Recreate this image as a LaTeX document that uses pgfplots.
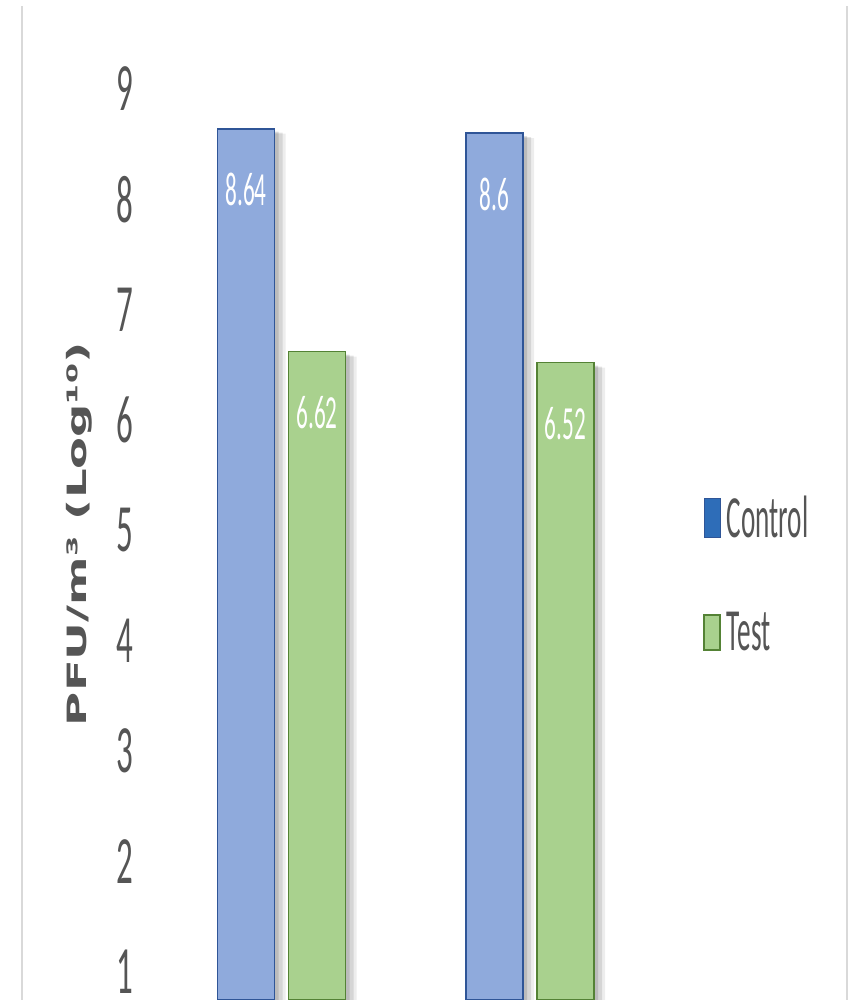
\documentclass[border=0pt]{standalone}
\usepackage{pgfplots}
\pgfplotsset{compat=1.18}
\usepackage{fontspec}
\usepackage{graphicx}
\setmainfont{Carlito}
\newfontfamily\labfont{DejaVu Sans}
\definecolor{ctrlfill}{HTML}{8FAADC}
\definecolor{ctrledge}{HTML}{2F5597}
\definecolor{ctrlleg}{HTML}{2E6DB8}
\definecolor{testfill}{HTML}{A9D18E}
\definecolor{testedge}{HTML}{548235}
\definecolor{txtgray}{HTML}{555555}
\definecolor{bordergray}{HTML}{D9D9D9}
\begin{document}
\begin{tikzpicture}[x=1pt,y=1pt]
\useasboundingbox (0,0) rectangle (425.5,500);
\begin{axis}[
  at={(0,0)}, anchor=south west,
  width=425.5pt, height=500pt, scale only axis,
  xmin=-1.1328, xmax=2.2918, ymin=0.741, ymax=9.807,
  axis line style={draw=none},
  ybar, bar width=28.5pt,
  xtick=\empty,
  ytick={1,2,3,4,5,6,7,8,9},
  major tick length=0pt,
  /pgf/number format/assume math mode=true,
  yticklabel style={anchor=center, xshift=62.5pt, inner sep=0pt, text=txtgray, font=\fontsize{16.5}{16.5}\selectfont},
  yticklabel={\scalebox{1}[2.05]{\pgfmathprintnumber{\tick}}},
  ylabel={\labfont\bfseries\scalebox{1.75}[1]{PFU/m³ (Log¹⁰)}},
  ylabel style={at={(axis description cs:0.0928,0.466)}, anchor=center, text=txtgray, font=\fontsize{13.3}{13.3}\selectfont},
  nodes near coords={\scalebox{1}[2.05]{\pgfmathprintnumber{\pgfplotspointmeta}}},
  nodes near coords style={anchor=center, yshift=-30.5pt, text=white, font=\fontsize{11.6}{11.6}\selectfont},
  legend style={draw=none, fill=none, at={(axis description cs:0.826,0.4255)}, anchor=west,
    inner sep=0pt, row sep=36pt, text=txtgray, font=\fontsize{13.6}{13.6}\selectfont,
    nodes={inner sep=0pt},
    /tikz/every odd column/.append style={column sep=3pt}},
  legend cell align=left,
]
% shadows (gray offset copies of the bars)
\addplot[forget plot, fill=black, draw=none, opacity=0.12, bar shift=-15.75pt, yshift=-1.5pt, nodes near coords={}] coordinates {(0,8.64) (1,8.6)};
\addplot[forget plot, fill=black, draw=none, opacity=0.10, bar shift=-13.75pt, yshift=-2pt, nodes near coords={}] coordinates {(0,8.64) (1,8.6)};
\addplot[forget plot, fill=black, draw=none, opacity=0.07, bar shift=-12.25pt, yshift=-2.5pt, nodes near coords={}] coordinates {(0,8.64) (1,8.6)};
\addplot[forget plot, fill=black, draw=none, opacity=0.12, bar shift=19.75pt, yshift=-1.5pt, nodes near coords={}] coordinates {(0,6.62) (1,6.52)};
\addplot[forget plot, fill=black, draw=none, opacity=0.10, bar shift=21.75pt, yshift=-2pt, nodes near coords={}] coordinates {(0,6.62) (1,6.52)};
\addplot[forget plot, fill=black, draw=none, opacity=0.07, bar shift=23.25pt, yshift=-2.5pt, nodes near coords={}] coordinates {(0,6.62) (1,6.52)};
% bars
\addplot[fill=ctrlfill, draw=ctrledge, line width=0.8pt, bar shift=-17.75pt,
  legend image code/.code={\fill[fill=ctrlleg, draw=ctrledge, line width=0.5pt] (0pt,-9.75pt) rectangle (8pt,9.75pt);}]
  coordinates {(0,8.64) (1,8.6)};
\addplot[fill=testfill, draw=testedge, line width=0.8pt, bar shift=17.75pt,
  legend image code/.code={\fill[fill=testfill] (0pt,-8.75pt) rectangle (8pt,8.75pt);}]
  coordinates {(0,6.62) (1,6.52)};
\legend{\scalebox{1}[2.2]{Control},\scalebox{1}[2.2]{Test}}
\draw[bordergray, line width=0.75pt] (rel axis cs:0.02585,0) -- (rel axis cs:0.02585,0.994);
\draw[bordergray, line width=0.75pt] (rel axis cs:0.9953,0) -- (rel axis cs:0.9953,0.994);
\end{axis}
\end{tikzpicture}
\end{document}
